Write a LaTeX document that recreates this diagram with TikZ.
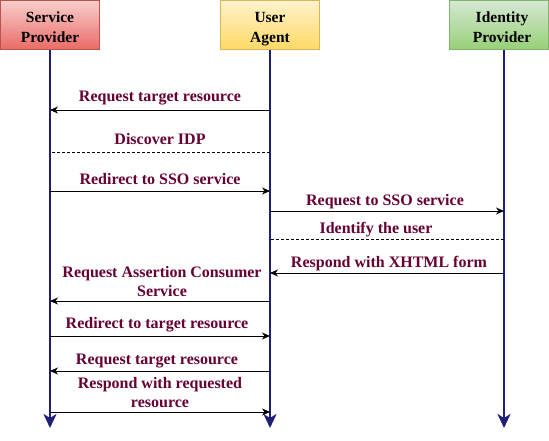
\documentclass[tikz,border=0pt]{standalone}
\usepackage{fontspec}
\setmainfont{Liberation Serif}
\usetikzlibrary{arrows.meta}
\definecolor{lbl}{HTML}{660033}
\definecolor{life}{HTML}{1F1F7A}
\definecolor{spTop}{HTML}{F8CECC}\definecolor{spBot}{HTML}{EA6B66}\definecolor{spLine}{HTML}{B85450}
\definecolor{uaTop}{HTML}{FFF2CC}\definecolor{uaBot}{HTML}{FFD966}\definecolor{uaLine}{HTML}{D6B656}
\definecolor{idTop}{HTML}{D5E8D4}\definecolor{idBot}{HTML}{97D077}\definecolor{idLine}{HTML}{82B366}
\begin{document}
\begin{tikzpicture}[x=1pt,y=-1pt,
  actor/.style={draw, line width=1pt, minimum width=99pt, minimum height=49pt, inner sep=0pt,
    text height=35pt, text depth=0pt,
    align=center, font=\fontsize{15.5}{20}\selectfont\bfseries},
  lifeline/.style={draw=life, line width=2pt, -{Stealth[length=14pt,width=13pt,inset=4pt]}},
  msg/.style={draw=black, line width=0.9pt, -{Stealth[length=8pt,width=7pt,inset=2.5pt]}},
  ret/.style={draw=black, line width=0.8pt, dash pattern=on 3pt off 2pt},
  lab/.style={text=lbl, anchor=base, align=center, inner sep=0pt,
    font=\fontsize{16}{19}\selectfont\bfseries}]
\useasboundingbox (0,0) rectangle (549,440);
% actors
\node[actor, top color=spTop, bottom color=spBot, draw=spLine] (sp) at (50,25) {Service\\Provider};
\node[actor, top color=uaTop, bottom color=uaBot, draw=uaLine] (ua) at (270,25) {User\\Agent};
\node[actor, top color=idTop, bottom color=idBot, draw=idLine] (idp) at (499,25) {\hspace*{6pt}Identity\\\hspace*{6pt}Provider};
% lifeline ends
\coordinate (spT) at (50,50); \coordinate (spB) at (50,428);
\coordinate (uaT) at (270,50); \coordinate (uaB) at (270,428);
\coordinate (idT) at (504,50); \coordinate (idB) at (504,428);
\draw[lifeline] (spT) -- (spB);
\draw[lifeline] (uaT) -- (uaB);
\draw[lifeline] (idT) -- (idB);
% message anchor points
\foreach \n/\y in {1/110,2/152,3/191,4/211,5/239,6/273,7/301,8/336,9/371,10/412}{
  \coordinate (sp\n) at (50,\y);
  \coordinate (ua\n) at (270,\y);
  \coordinate (id\n) at (504,\y);
}
% messages
\draw[msg] (ua1) -- (sp1);
\node[lab] (l1) at (160,101) {Request target resource};
\draw[ret] (ua2) -- (sp2);
\node[lab] (l2) at (160,144) {Discover IDP};
\draw[msg] (sp3) -- (ua3);
\node[lab] (l3) at (160,184) {Redirect to SSO service};
\draw[msg] (ua4) -- (id4);
\node[lab] (l4) at (385,205) {Request to SSO service};
\draw[ret] (id5) -- (ua5);
\node[lab] (l5) at (376,233) {Identify the user};
\draw[msg] (id6) -- (ua6);
\node[lab] (l6) at (389,267) {Respond with XHTML form};
\draw[msg] (ua7) -- (sp7);
\node[lab] (l7) at (162,296) {Request Assertion Consumer\\Service};
\draw[msg] (sp8) -- (ua8);
\node[lab] (l8) at (157,328) {Redirect to target resource};
\draw[msg] (ua9) -- (sp9);
\node[lab] (l9) at (157,364) {Request target resource};
\draw[msg] (sp10) -- (ua10);
\node[lab] (l10) at (160,407) {Respond with requested\\resource};
\end{tikzpicture}
\end{document}
